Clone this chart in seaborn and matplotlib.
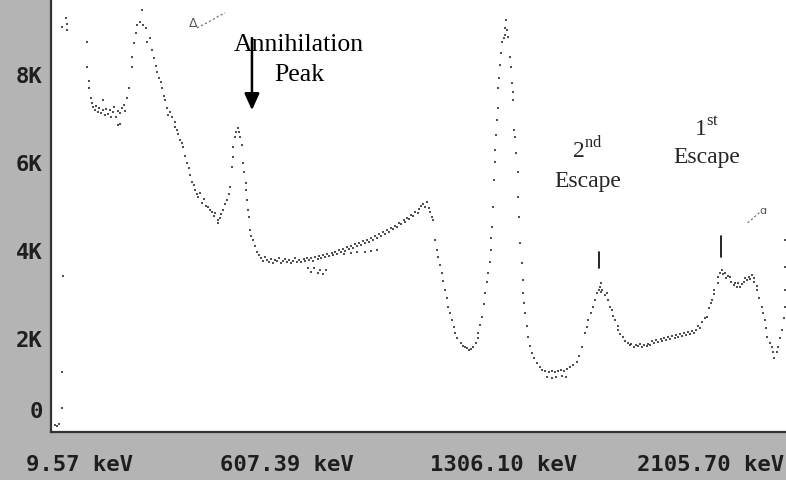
import matplotlib
matplotlib.use("Agg")
import matplotlib.pyplot as plt
from matplotlib.transforms import ScaledTranslation
import seaborn as sns
import pandas as pd

# ---- spectrum data (channel, counts) ----
channel = [2, 4, 6, 8, 8, 9, 8, 12, 13, 13,
           32, 32, 33, 33, 35, 36,
           37, 39, 40, 42, 43, 45, 46, 46, 48, 49, 51, 53, 54, 56, 57, 59, 60, 60, 62, 62, 64, 66, 67,
           69, 71, 73, 73, 75, 77, 78, 81, 83, 84, 86, 87, 90, 92, 94, 96, 97, 99, 100, 101, 103, 104,
           106, 107, 109, 111, 113, 113, 115, 116, 118, 120, 121, 123, 125, 126, 127, 129, 131, 132,
           134, 135, 137, 139, 140, 142, 144, 146, 148, 150, 151, 153, 153, 155, 156, 158, 160, 162,
           164, 165, 166, 167, 167, 169, 170, 172, 173, 174, 176, 177, 178, 179, 179, 180, 181, 182,
           183, 184, 186, 188, 190, 192,
           193, 195, 197, 199, 201, 203, 205, 206, 208, 210, 212, 214, 216, 218, 219, 221, 223, 225,
           227, 229, 231, 233, 234, 236,
           237, 240, 243, 246, 248, 251, 254,
           238, 240, 242, 244, 246, 247, 249, 251, 253, 255, 257, 259, 260, 262, 264, 266, 268, 270,
           272, 273, 275, 277, 279, 281, 283, 285, 286, 288, 290, 292, 294, 296, 298, 299, 301, 303,
           305, 307, 309, 311, 312, 314, 316, 318, 320, 322, 324, 326, 327, 329, 331, 333, 335, 337,
           339, 340, 342, 344, 346, 348, 350, 351,
           271, 277, 283, 290, 296, 301,
           352, 353, 355, 357, 358, 360, 362, 363, 365, 366, 367, 369, 371, 373, 374, 376, 379, 381,
           383, 385, 387, 389, 391, 393, 395, 395, 397, 399, 401, 402, 404, 405, 406, 407, 407, 408,
           409, 410, 411, 411, 412, 413, 414, 414, 415, 416, 417, 418, 419, 420, 420, 421, 422, 423,
           425, 426, 427, 428, 428, 429, 430, 431, 432, 432, 433, 434, 436, 437, 437, 438, 439, 441,
           442, 444, 445, 447, 450, 453, 455, 458, 461, 464, 467, 470, 472, 475,
           459, 464, 468, 473, 477,
           478, 481, 484, 487, 489, 492, 495, 497, 498, 500, 502, 504, 506, 508, 509, 510, 510, 511,
           513, 515, 516, 518, 520, 521, 523, 525, 525, 527, 530, 532, 535,
           537, 538, 540, 542, 544, 546, 548, 550, 552, 553, 555, 557, 559, 561, 563, 565, 566, 568,
           570, 572, 574, 576, 578, 579, 581, 583, 585, 587, 589, 591, 592, 594, 596, 598, 600, 602,
           604, 606, 608, 610, 612, 613, 615, 615, 618, 618, 620, 622, 623, 625, 626, 628, 630, 631,
           633, 634, 636, 637, 639, 641, 643, 644, 645, 647, 648, 650, 652, 652, 655, 655, 657, 659,
           660, 662, 663, 664, 667, 669, 670, 671, 673, 674, 676, 678, 680, 681, 681, 681, 681]

counts = [50, 30, 60, 430, 1250, 3430, 9090, 9300, 9160, 9020,
          8750, 8180, 7860, 7700, 7480, 7360,
          7270, 7200, 7300, 7160, 7250, 7140, 7430, 7200, 7090, 7230, 7110, 7200, 7050, 7160, 7270,
          7050, 7180, 6860, 6890, 7140, 7250, 7320, 7180,
          7480, 7700, 8180, 8410, 8730, 8950, 9140, 9200, 9480, 9140, 9070, 8750, 8840, 8570, 8390,
          8210, 8070, 7930, 7840, 7700, 7520, 7430,
          7250, 7090, 7160, 7050, 6930, 6820, 6750, 6660, 6520, 6450, 6360, 6160, 6000, 5890, 5730,
          5570, 5500, 5390,
          5300, 5230, 5320, 5090, 5180, 5020, 5000, 4930, 4890, 4800, 4860, 4700, 4640, 4750, 4840,
          4930, 5070, 5160,
          5300, 5450, 5910, 6140, 6360, 6590, 6710, 6800, 6710, 6590, 6410, 6000, 5800, 5550, 5390,
          5160, 4930, 4770,
          4480, 4340, 4250, 4110, 3980, 3910,
          3840, 3770, 3860, 3800, 3750, 3820, 3730, 3800, 3770, 3840, 3730, 3770, 3820, 3750, 3800,
          3730, 3770, 3840, 3750, 3800, 3750, 3820, 3770, 3840,
          3610, 3520, 3610, 3500, 3570, 3480, 3570,
          3800, 3840, 3770, 3860, 3820, 3890, 3840, 3910, 3860, 3930, 3890, 3950, 3910, 3980, 3930,
          4020, 3980, 4050, 4000, 4090, 4050, 4110, 4070, 4160, 4110, 4180, 4140, 4230, 4180, 4250,
          4200, 4300, 4250, 4340, 4300, 4390, 4340, 4430, 4390, 4480, 4430, 4520, 4500, 4570, 4550,
          4640, 4610, 4700, 4660, 4750, 4730, 4820, 4800, 4890, 4860, 4950, 5020, 5070, 5000, 5110,
          4980, 4890,
          3930, 3950, 3980, 3980, 4000, 4020,
          4770, 4700, 4250, 4020, 3860, 3680, 3500, 3320, 3110, 2930, 2730, 2590, 2430, 2270, 2140,
          2020, 1910, 1840, 1820, 1800, 1750, 1770, 1820, 1910, 2020, 2140, 2320, 2500, 2800, 3050,
          3300, 3500, 3750, 4020, 4300, 4550, 5000, 5610, 6020, 6300, 6640, 6980, 7250, 7700, 7930,
          8230, 8500, 8750, 8840, 8910, 9070, 9250, 9020, 8860, 8410, 8180, 7820, 7610, 7430, 6750,
          6590, 6230, 5800, 5230, 4770, 4180, 3730, 3340, 3050, 2820, 2590, 2300, 2050, 1840, 1680,
          1570, 1450, 1360, 1300, 1270, 1250, 1270, 1250, 1270, 1300, 1270,
          1140, 1110, 1140, 1160, 1140,
          1320, 1360, 1410, 1480, 1610, 1820, 2140, 2270, 2430, 2590, 2730, 2890, 3050, 3110, 3180,
          3270, 3070, 3110, 3000, 3050, 2890, 2730, 2660, 2520, 2430, 2300, 2200, 2110, 2050, 1950,
          1910,
          1860, 1890, 1820, 1860, 1840, 1890, 1820, 1860, 1840, 1890, 1860, 1950, 1910, 1980, 1930,
          2000, 1950, 2020, 1980, 2050, 2000, 2070, 2020, 2090, 2050, 2110, 2070, 2140, 2090, 2160,
          2110, 2180, 2140, 2200, 2300, 2250, 2390, 2480, 2500, 2700, 2820, 2890, 3020, 3110, 3270,
          3410, 3500, 3570, 3480, 3500, 3390, 3430, 3410, 3300, 3230, 3270, 3180, 3270, 3180, 3250,
          3300, 3390, 3340, 3410, 3360, 3450, 3390, 3300, 3200, 3110, 2930, 2730, 2590, 2430, 2250,
          2050, 1910, 1820, 1700, 1570, 1700, 1820, 2020, 2200, 2480, 2730, 3110, 3640, 4250]

# faint overlay traces from the original display
overlay_a_channel = [134, 141, 148, 154, 160]
overlay_a_counts = [9070, 9160, 9250, 9340, 9410]
overlay_b_channel = [646, 650, 654, 658]
overlay_b_counts = [4640, 4720, 4810, 4890]

# axis ticks
x_tick_channels = [0, 200, 400, 600]
x_tick_labels = ["9.57 keV", "607.39 keV", "1306.10 keV", "2105.70 keV"]
y_tick_values = [0, 2000, 4000, 6000, 8000]
y_tick_labels = ["0", "2K", "4K", "6K", "8K"]

# annotations
annihilation_channel, annihilation_arrow_top, annihilation_arrow_tip = 185, 8840, 7200
escape2_channel, escape2_mark = 508, (3980, 3610)
escape1_channel, escape1_mark = 621, (4340, 3860)

df = pd.DataFrame({"channel": channel, "counts": counts})

sns.set_style("white")
plt.rcParams["mathtext.fontset"] = "custom"
plt.rcParams["mathtext.rm"] = "Liberation Serif"

fig = plt.figure(figsize=(7.86, 4.80), dpi=100, facecolor="#b4b4b4")
ax = fig.add_axes([51 / 786, 48 / 480, 735 / 786, 432 / 480])
ax.set_facecolor("white")

sns.scatterplot(data=df, x="channel", y="counts", ax=ax, marker="s", s=3,
                color="#333333", linewidth=0, alpha=0.85, legend=False)

ax.plot(overlay_a_channel, overlay_a_counts, color="#666666", lw=0.8, ls=(0, (2, 2)))
ax.plot(overlay_b_channel, overlay_b_counts, color="#666666", lw=0.8, ls=(0, (2, 2)))
ax.text(130, 9180, "Δ", fontsize=9, color="#555555", ha="center", va="center")
ax.text(660, 4910, "ɑ", fontsize=8, color="#555555", ha="center", va="center")

ax.set_xlim(-1.9, 681.7)
ax.set_ylim(-114, 9705)

ax.set_xticks(x_tick_channels)
ax.set_xticklabels(x_tick_labels)
ax.set_yticks(y_tick_values)
ax.set_yticklabels(y_tick_labels)
ax.set_xlabel("")
ax.set_ylabel("")

for lab in ax.get_xticklabels() + ax.get_yticklabels():
    lab.set_fontfamily("DejaVu Sans Mono")
    lab.set_fontweight("bold")
    lab.set_fontsize(16)
    lab.set_color("#1e1e1e")

ax.tick_params(axis="x", direction="out", length=8, width=1.3, color="#333333", pad=8.5)
ax.tick_params(axis="y", direction="out", length=5, width=1.3, color="#333333", pad=1)

for sp in ["top", "right"]:
    ax.spines[sp].set_visible(False)
for sp in ["left", "bottom"]:
    ax.spines[sp].set_color("#333333")
    ax.spines[sp].set_linewidth(1.6)

x_offsets = [26, 19, 20, 12]
for lab, off in zip(ax.get_xticklabels(), x_offsets):
    lab.set_transform(lab.get_transform() + ScaledTranslation(off / 100, 0, fig.dpi_scale_trans))
ylabs = ax.get_yticklabels()
ylabs[0].set_transform(ylabs[0].get_transform() + ScaledTranslation(0, 17 / 100, fig.dpi_scale_trans))

serif = "Liberation Serif"
ax.text(229, 8685, "Annihilation", fontfamily=serif, fontsize=18.5, ha="center",
        va="center", color="black")
ax.text(229, 8005, "Peak", fontfamily=serif, fontsize=18.5, ha="center",
        va="center", color="black")
ax.annotate("", xy=(annihilation_channel, annihilation_arrow_tip),
            xytext=(annihilation_channel, annihilation_arrow_top),
            arrowprops=dict(arrowstyle="-|>,head_length=1.0,head_width=0.45", color="black",
                            lw=1.8, shrinkA=0, shrinkB=0))

ax.text(497, 6300, r"2$^{\mathrm{nd}}$", fontfamily=serif, fontsize=17, ha="center", va="center")
ax.text(497, 5580, "Escape", fontfamily=serif, fontsize=17, ha="center", va="center")
ax.text(608, 6760, r"1$^{\mathrm{st}}$", fontfamily=serif, fontsize=17, ha="center", va="center")
ax.text(608, 6120, "Escape", fontfamily=serif, fontsize=17, ha="center", va="center")

ax.plot([escape2_channel, escape2_channel], list(escape2_mark), color="black", lw=1.2)
ax.plot([escape1_channel, escape1_channel], list(escape1_mark), color="black", lw=1.2)

fig.savefig("out.png", dpi=100, facecolor=fig.get_facecolor())
